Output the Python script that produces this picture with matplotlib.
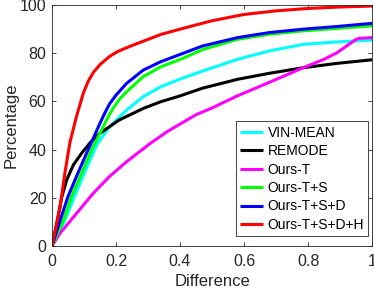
import matplotlib
matplotlib.use("Agg")
import matplotlib.pyplot as plt

plt.rcParams['font.family'] = ['Liberation Sans', 'DejaVu Sans']

# curve values (difference -> percentage)
x_cyan = [0, 0.04, 0.07, 0.1, 0.14, 0.18, 0.233, 0.285, 0.34, 0.4, 0.47, 0.58, 0.68, 0.785, 0.89, 1.0]
y_cyan = [0, 10.5, 20.5, 30, 42, 49.5, 56.4, 62, 66.1, 69.3, 72.6, 77.5, 81, 83.7, 84.7, 85.5]

x_black = [0, 0.015, 0.03, 0.046, 0.067, 0.093, 0.12, 0.15, 0.21, 0.285, 0.34, 0.4, 0.47, 0.58, 0.68, 0.785, 0.89, 1.0]
y_black = [0, 9.4, 20, 27.5, 33.7, 38.6, 43, 46.8, 52.3, 57.1, 59.9, 62.3, 65.5, 69.2, 71.7, 74, 75.8, 77.3]

x_magenta = [0, 0.025, 0.077, 0.129, 0.18, 0.233, 0.275, 0.306, 0.36, 0.45, 0.5, 0.577, 0.68, 0.785, 0.85, 0.89, 0.92, 0.95, 0.96, 1.0]
y_magenta = [0, 5.3, 13.6, 21.9, 28.9, 35, 39.3, 42.5, 47.5, 54.5, 57.3, 62.2, 68, 74, 77.5, 80.2, 83, 85.8, 86.2, 86.5]

x_green = [0, 0.035, 0.061, 0.093, 0.124, 0.16, 0.175, 0.19, 0.21, 0.233, 0.285, 0.34, 0.4, 0.47, 0.58, 0.68, 0.785, 0.89, 1.0]
y_green = [0, 10.5, 20.5, 30.3, 40, 49.5, 53.5, 57, 60.8, 64, 70.3, 74.4, 77.4, 81.5, 85.8, 87.9, 89.3, 90.3, 91.4]

x_blue = [0, 0.025, 0.05, 0.077, 0.103, 0.12, 0.15, 0.165, 0.18, 0.2, 0.233, 0.285, 0.34, 0.4, 0.47, 0.58, 0.68, 0.785, 0.89, 1.0]
y_blue = [0, 10.5, 20.5, 29, 37, 42, 51, 55.2, 59, 62.6, 67.5, 73, 76.5, 79.5, 83, 86.5, 88.6, 90, 91.1, 92.4]

x_red = [0, 0.025, 0.04, 0.056, 0.077, 0.098, 0.113, 0.129, 0.15, 0.18, 0.205, 0.233, 0.285, 0.34, 0.4, 0.5, 0.6, 0.7, 0.8, 0.9, 1.0]
y_red = [0, 16, 30, 43, 54, 63.5, 68.3, 72, 75.3, 78.7, 80.7, 82.3, 85, 87.8, 90, 93.5, 96.1, 97.6, 98.6, 99.2, 99.6]

labels = ['VIN-MEAN', 'REMODE', 'Ours-T', 'Ours-T+S', 'Ours-T+S+D', 'Ours-T+S+D+H']
colors = ['#00ffff', '#000000', '#ff00ff', '#00ff00', '#0000ff', '#ff0000']


def main():
	fig = plt.figure(figsize=(3.74, 2.91), dpi=100)
	ax = fig.add_axes([0.139, 0.1546, 0.856, 0.828])

	series = [(x_cyan, y_cyan), (x_black, y_black), (x_magenta, y_magenta),
			  (x_green, y_green), (x_blue, y_blue), (x_red, y_red)]
	for (xs, ys), lab, c in zip(series, labels, colors):
		ax.plot(xs, ys, color=c, linewidth=2.2, label=lab,
				solid_joinstyle='round', solid_capstyle='butt')

	ax.set_xlim(0, 1)
	ax.set_ylim(0, 100)
	ax.set_xticks([0, 0.2, 0.4, 0.6, 0.8, 1])
	ax.set_xticklabels(['0', '0.2', '0.4', '0.6', '0.8', '1'])
	ax.set_yticks([0, 20, 40, 60, 80, 100])
	ax.tick_params(direction='in', top=True, right=True, length=3, width=0.6,
				   colors='#262626', labelsize=11.5, pad=4)
	ax.tick_params(axis='x', pad=5.5)
	for s in ax.spines.values():
		s.set_color('#262626')
		s.set_linewidth(0.6)
	ax.set_xlabel('Difference', fontsize=12, color='#262626', labelpad=4)
	ax.set_ylabel('Percentage', fontsize=12, color='#262626', labelpad=1)

	leg = ax.legend(loc='lower right', bbox_to_anchor=(0.9875, 0.0415), fontsize=10,
					fancybox=False, edgecolor='#262626', framealpha=1,
					handlelength=1.7, handletextpad=0.3, labelspacing=0.32,
					borderpad=0.3, borderaxespad=0)
	leg.get_frame().set_linewidth(0.6)

	fig.savefig('out.png', dpi=100)


if __name__ == "__main__":
	main()
